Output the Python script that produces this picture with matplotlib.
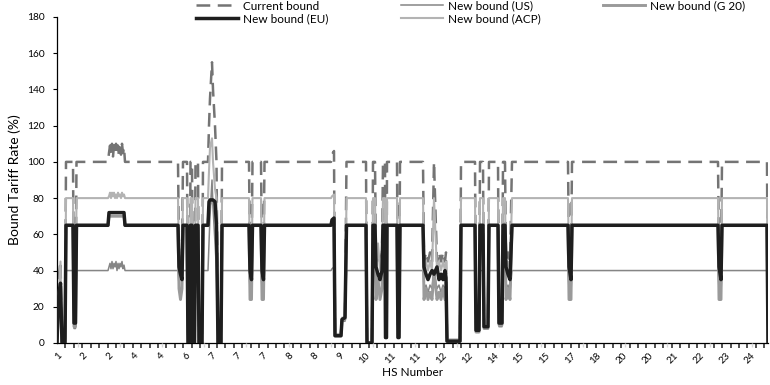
import numpy as np
import matplotlib
matplotlib.use("Agg")
import matplotlib.pyplot as plt

plt.rcParams["font.family"] = ["Lato", "DejaVu Sans"]

# tariff line position (one unit ~ one pixel of the original axis)
line_pos = ([0, 1.5, 3.5, 5, 8, 9] +
            [16, 17, 18.5, 19.5] +
            list(range(51, 69)) +
            [121, 122, 123.5, 125, 126] +
            [130, 131, 132.5, 133.5, 135, 136, 137.5, 138.5, 141, 142, 145, 146] +
            [151, 152, 153, 155, 156, 158, 159.5, 161, 164, 165] +
            [192, 193, 194.5, 195.5, 204, 205, 206.5, 207.5] +
            [274, 275, 277, 278, 284, 285, 288, 289.5] +
            [309, 310, 315, 316, 318, 319, 321, 323, 325, 326, 328, 328.5, 329.5, 330, 340, 341, 342, 343] +
            [366, 367, 369, 371, 373, 375, 377, 380, 382, 384, 386, 388, 389, 390, 403, 404] +
            [418, 419, 422, 423, 426, 427, 431, 432, 441, 442, 445, 446, 448, 449, 451, 453, 455] +
            [511, 512, 514, 515, 661, 662, 664, 665, 710, 711])

current = ([0, 35, 45, 0, 0, 100] +
           [100, 15, 15, 100] +
           [100, 105, 109, 104, 110, 103, 109, 105, 110, 104, 109, 103, 108, 104, 110, 105, 108, 100] +
           [100, 50, 45, 50, 100] +
           [100, 0, 0, 100, 100, 0, 0, 100, 100, 0, 0, 100] +
           [100, 120, 135, 155, 140, 120, 100, 0, 0, 100] +
           [100, 45, 45, 100, 100, 45, 45, 100] +
           [100, 104, 106, 5, 5, 15, 15, 100] +
           [100, 0, 0, 100, 100, 45, 50, 45, 50, 100, 100, 3, 3, 100, 100, 3, 3, 100] +
           [100, 45, 50, 45, 50, 45, 100, 45, 50, 45, 50, 45, 50, 1, 1, 100] +
           [100, 7, 7, 100, 100, 9, 9, 100, 100, 11, 11, 100, 100, 45, 50, 45, 100] +
           [100, 45, 45, 100, 100, 45, 45, 100, 100, 0])

us = ([0, 15, 22, 0, 0, 40] +
      [40, 8, 8, 40] +
      [40, 42, 44, 41, 45, 41, 44, 42, 45, 40, 44, 41, 44, 42, 45, 41, 43, 40] +
      [40, 32, 28, 32, 40] +
      [40, 0, 0, 40, 40, 0, 0, 40, 40, 0, 0, 40] +
      [40, 55, 70, 90, 75, 55, 40, 0, 0, 40] +
      [40, 30, 28, 40, 40, 30, 28, 40] +
      [40, 41, 42, 4, 4, 12, 12, 40] +
      [40, 0, 0, 40, 40, 30, 35, 28, 32, 40, 40, 3, 3, 40, 40, 3, 3, 40] +
      [40, 30, 32, 28, 32, 30, 40, 30, 32, 28, 32, 30, 32, 1, 1, 40] +
      [40, 6, 6, 40, 40, 8, 8, 40, 40, 9, 9, 40, 40, 30, 32, 28, 40] +
      [40, 30, 28, 40, 40, 30, 28, 40, 40, 0])

g20 = ([0, 20, 28, 0, 0, 65] +
       [65, 9, 9, 65] +
       [65] + [70] * 16 + [65] +
       [65, 30, 24, 30, 65] +
       [65, 0, 0, 65, 65, 0, 0, 65, 65, 0, 0, 65] +
       [65, 75, 77, 78, 77, 76, 65, 0, 0, 65] +
       [65, 24, 24, 65, 65, 24, 24, 65] +
       [65, 67, 68, 4, 4, 13, 13, 65] +
       [65, 0, 0, 65, 65, 24, 35, 24, 30, 65, 65, 3, 3, 65, 65, 3, 3, 65] +
       [65, 24, 30, 24, 28, 24, 40, 24, 28, 24, 30, 24, 30, 1, 1, 65] +
       [65, 6, 6, 65, 65, 8, 8, 65, 65, 10, 10, 65, 65, 24, 30, 24, 65] +
       [65, 24, 24, 65, 65, 24, 24, 65, 65, 0])

eu = ([0, 25, 33, 0, 0, 65] +
      [65, 11, 11, 65] +
      [65] + [72] * 16 + [65] +
      [65, 42, 38, 35, 65] +
      [65, 0, 0, 65, 65, 0, 0, 65, 65, 0, 0, 65] +
      [65, 78, 79, 79, 79, 78, 65, 0, 0, 65] +
      [65, 40, 35, 65, 65, 40, 35, 65] +
      [65, 68, 69, 4, 4, 13, 14, 65] +
      [65, 0, 0, 65, 65, 42, 38, 35, 40, 65, 65, 3, 3, 65, 65, 3, 3, 65] +
      [65, 42, 38, 35, 38, 40, 38, 42, 35, 38, 35, 40, 36, 1, 1, 65] +
      [65, 7, 7, 65, 65, 9, 9, 65, 65, 11, 11, 65, 65, 42, 38, 35, 65] +
      [65, 42, 35, 65, 65, 42, 35, 65, 65, 0])

acp = ([0, 25, 45, 0, 0, 80] +
       [80, 12, 12, 80] +
       [80, 81, 83, 80, 83, 81, 83, 80, 82, 80, 83, 81, 82, 80, 83, 81, 82, 80] +
       [80, 45, 38, 45, 80] +
       [80, 0, 0, 80, 80, 0, 0, 80, 80, 0, 0, 80] +
       [80, 95, 108, 113, 100, 85, 80, 0, 0, 80] +
       [80, 40, 38, 80, 80, 40, 38, 80] +
       [80, 81, 82, 5, 5, 14, 14, 80] +
       [80, 0, 0, 80, 80, 40, 55, 40, 50, 80, 80, 3, 3, 80, 80, 3, 3, 80] +
       [80, 40, 45, 40, 45, 40, 80, 40, 45, 40, 45, 40, 45, 2, 2, 80] +
       [80, 7, 7, 80, 80, 9, 9, 80, 80, 11, 11, 80, 80, 40, 45, 40, 80] +
       [80, 40, 38, 80, 80, 40, 38, 80, 80, 0])

hs_labels = ["1", "2", "2", "4", "4", "6", "7", "7", "7", "8", "8", "9", "10", "11",
             "11", "12", "12", "14", "15", "15", "17", "18", "20", "20", "21", "22", "23", "24"]

fig = plt.figure(figsize=(7.7, 3.85), dpi=100)
ax = fig.add_axes([57 / 770, 1 - 343 / 385, 711 / 770, 326 / 385])

l_cur, = ax.plot(line_pos, current, color="#747474", lw=1.8, ls=(0, (5.5, 3)), zorder=2)
l_acp, = ax.plot(line_pos, acp, color="#b3b3b3", lw=1.5, zorder=3)
l_us, = ax.plot(line_pos, us, color="#858585", lw=1.1, zorder=4)
l_g20, = ax.plot(line_pos, g20, color="#9a9a9a", lw=2.1, zorder=5)
l_eu, = ax.plot(line_pos, eu, color="#1e1e1e", lw=2.5, zorder=6)

ax.set_xlim(0, 711)
ax.set_ylim(0, 180)
ax.set_yticks(np.arange(0, 181, 20))
ax.spines["top"].set_visible(False)
ax.spines["right"].set_visible(False)
ax.spines["left"].set_linewidth(0.9)
ax.spines["bottom"].set_linewidth(0.9)

label_pos = np.arange(len(hs_labels)) * 25.7
ax.set_xticks(label_pos)
ax.set_xticklabels(hs_labels, rotation=45, ha="right", rotation_mode="anchor", fontsize=7)
ax.set_xticks(np.arange(0, 711, 8.42), minor=True)
ax.tick_params(axis="x", which="major", length=0, pad=6)
ax.tick_params(axis="x", which="minor", length=3.5, width=1.2, color="#333333")
ax.tick_params(axis="y", length=3, width=0.8, labelsize=7.3, pad=6)
ax.vlines(21 + np.arange(17) * 42.1, -0.013, 0, transform=ax.get_xaxis_transform(),
          color="#d8d8d8", lw=1, clip_on=False, zorder=10)

ax.set_ylabel("Bound Tariff Rate (%)", fontsize=10, labelpad=4)
ax.set_xlabel("HS Number", fontsize=8.5, labelpad=1)

leg_cols = [([l_cur, l_eu], ["Current bound", "New bound (EU)"], 195),
            ([l_us, l_acp], ["New bound (US)", "New bound (ACP)"], 400),
            ([l_g20], ["New bound (G 20)"], 602)]
for handles, names, xpos in leg_cols:
    fig.legend(handles, names, loc="upper left", bbox_to_anchor=(xpos / 770, 1.0),
               frameon=False, fontsize=8.5, handlelength=3.6, handletextpad=0.4,
               labelspacing=0.15, borderpad=0.05, borderaxespad=0)

fig.savefig("out.png", dpi=100)
